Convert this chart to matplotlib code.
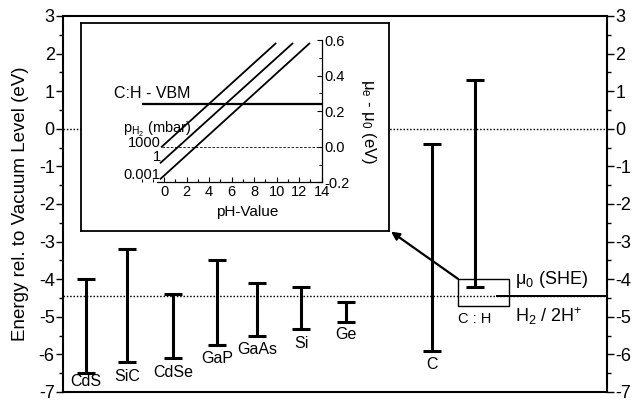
import matplotlib
matplotlib.use("Agg")
import matplotlib.pyplot as plt
from matplotlib.patches import Rectangle
from matplotlib.ticker import MultipleLocator, FormatStrFormatter

plt.rcParams['font.family'] = ['Liberation Sans', 'DejaVu Sans']
plt.rcParams['mathtext.fontset'] = 'custom'
plt.rcParams['mathtext.rm'] = 'Liberation Sans'
plt.rcParams['mathtext.it'] = 'Liberation Sans:italic'
plt.rcParams['axes.unicode_minus'] = False

# band edges (eV vs vacuum level)
materials = ["CdS", "SiC", "CdSe", "GaP", "GaAs", "Si", "Ge", "C", "C : H"]
cb_edge = [-4.0, -3.2, -4.4, -3.5, -4.1, -4.2, -4.61, -0.4, 1.3]
vb_edge = [-6.5, -6.2, -6.1, -5.75, -5.5, -5.33, -5.15, -5.9, -4.2]
mu0_she = -4.44

# inset: electrochemical potential vs pH for several H2 pressures
p_h2 = ["1000", "1", "0.001"]
ph_start = [-0.2, -0.3, -0.3]
ph_end = [9.9, 11.4, 12.9]
mu_start = [0.0, -0.09, -0.18]
mu_end = [0.58, 0.58, 0.58]
vbm_ch = 0.24

# layout (x position of each bar, label height)
xpos = [0.42, 1.18, 2.02, 2.83, 3.57, 4.38, 5.2, 6.79, 7.57]
label_y = [-6.73, -6.60, -6.49, -6.12, -5.86, -5.72, -5.48, -6.27, -5.06]

fig = plt.figure(figsize=(6.4, 4.0), dpi=100)
ax = fig.add_axes([63/640, 8/400, 544/640, 376/400])

ax.set_xlim(0, 10)
ax.set_ylim(-7, 3)
ax.set_xticks([])
ax.yaxis.set_major_locator(MultipleLocator(1))
ax.yaxis.set_minor_locator(MultipleLocator(0.5))
ax.tick_params(axis='y', which='both', direction='out', left=True, right=True,
               labelleft=True, labelright=True, labelsize=13, pad=1, width=1)
ax.tick_params(axis='y', which='major', length=5)
ax.tick_params(axis='y', which='minor', length=3)
for s in ax.spines.values():
    s.set_linewidth(1.5)

ax.set_ylabel("Energy rel. to Vacuum Level (eV)", fontsize=13.5)
ax.yaxis.label.set_va('center')
ax.yaxis.set_label_coords(-0.079, 0.5)

ax.axhline(0, color='k', lw=1, ls=(0, (1.1, 1.3)), zorder=1)
ax.axhline(mu0_she, color='k', lw=1, ls=(0, (1.1, 1.3)), zorder=1)

mid = [(c + v) / 2 for c, v in zip(cb_edge, vb_edge)]
half = [(c - v) / 2 for c, v in zip(cb_edge, vb_edge)]
ax.errorbar(xpos, mid, yerr=half, fmt='none', ecolor='k', elinewidth=2.2,
            capsize=6.5, capthick=2.2, zorder=3)

for i, name in enumerate(materials):
    fs = 10.5 if name == "C : H" else 11.5
    ax.text(xpos[i], label_y[i], name, ha='center', va='center', fontsize=fs)

# box around the C:H valence band / SHE level
ax.add_patch(Rectangle((7.26, -4.71), 0.94, 0.72, fill=False, lw=1, ec='k', zorder=4))
ax.plot([7.97, 10], [mu0_she, mu0_she], color='k', lw=1.4, zorder=4)
ax.text(8.3, -4.0, r"$\mathregular{\mu_0}$ (SHE)", fontsize=13, ha='left', va='center')
ax.text(8.3, -4.98, r"$\mathregular{H_2}$ / 2H$^{\mathregular{+}}$", fontsize=13,
        ha='left', va='center')

ax.annotate('', xy=(0.611, 0.421), xycoords='figure fraction',
            xytext=(7.26, -3.99), textcoords='data', annotation_clip=False,
            arrowprops=dict(arrowstyle='-|>', lw=1.6, color='k', mutation_scale=12,
                            shrinkA=0, shrinkB=0))

# white frame for inset
box = fig.add_axes([81/640, 1 - 231/400, 308/640, 208/400])
box.set_xticks([])
box.set_yticks([])
for s in box.spines.values():
    s.set_linewidth(1.3)

ins = fig.add_axes([141.5/640, 1 - 182.3/400, 180.2/640, 142.3/400])
ins.patch.set_alpha(0)
ins.set_xlim(-2, 14)
ins.set_ylim(-0.2, 0.6)
ins.spines['top'].set_visible(False)
ins.spines['left'].set_visible(False)
ins.spines['bottom'].set_bounds(-0.6, 14)
for s in ['bottom', 'right']:
    ins.spines[s].set_linewidth(0.9)
ins.yaxis.tick_right()
ins.set_xticks(range(0, 15, 2))
ins.xaxis.set_minor_locator(MultipleLocator(1))
ins.yaxis.set_major_locator(MultipleLocator(0.2))
ins.yaxis.set_minor_locator(MultipleLocator(0.1))
ins.yaxis.set_major_formatter(FormatStrFormatter('%.1f'))
ins.tick_params(which='both', direction='in', labelsize=10.5, width=0.8, pad=2)
ins.tick_params(which='major', length=3.5)
ins.tick_params(which='minor', length=2)
ins.set_xlim(-2, 14)

ins.set_xlabel("pH-Value", fontsize=11)
ins.xaxis.label.set_va('center')
ins.xaxis.set_label_coords(0.588, -0.209)
ins.set_ylabel(r"$\mathregular{\mu_e}$ - $\mathregular{\mu_0}$ (eV)", fontsize=12,
               rotation=270)
ins.yaxis.set_label_position('right')
ins.yaxis.label.set_va('center')
ins.yaxis.label.set_ha('center')
ins.yaxis.set_label_coords(1.259, 0.426)

ins.plot([-0.2, 14], [0, 0], color='k', lw=0.6, ls=(0, (3, 2)))
for i in range(len(p_h2)):
    ins.plot([ph_start[i], ph_end[i]], [mu_start[i], mu_end[i]], color='k', lw=1.3)
ins.plot([-1.9, 14], [vbm_ch, vbm_ch], color='k', lw=1.6)

ins.text(-4.4, 0.298, "C:H - VBM", fontsize=11.5, ha='left', va='center')
ins.text(-3.65, 0.095, r"p$_{\mathregular{H_2}}$ (mbar)", fontsize=10.5,
         ha='left', va='center')
for lab, yy in zip(p_h2, [0.022, -0.06, -0.16]):
    ins.text(-0.3, yy, lab, fontsize=10.5, ha='right', va='center')

fig.savefig("out.png", dpi=100)
